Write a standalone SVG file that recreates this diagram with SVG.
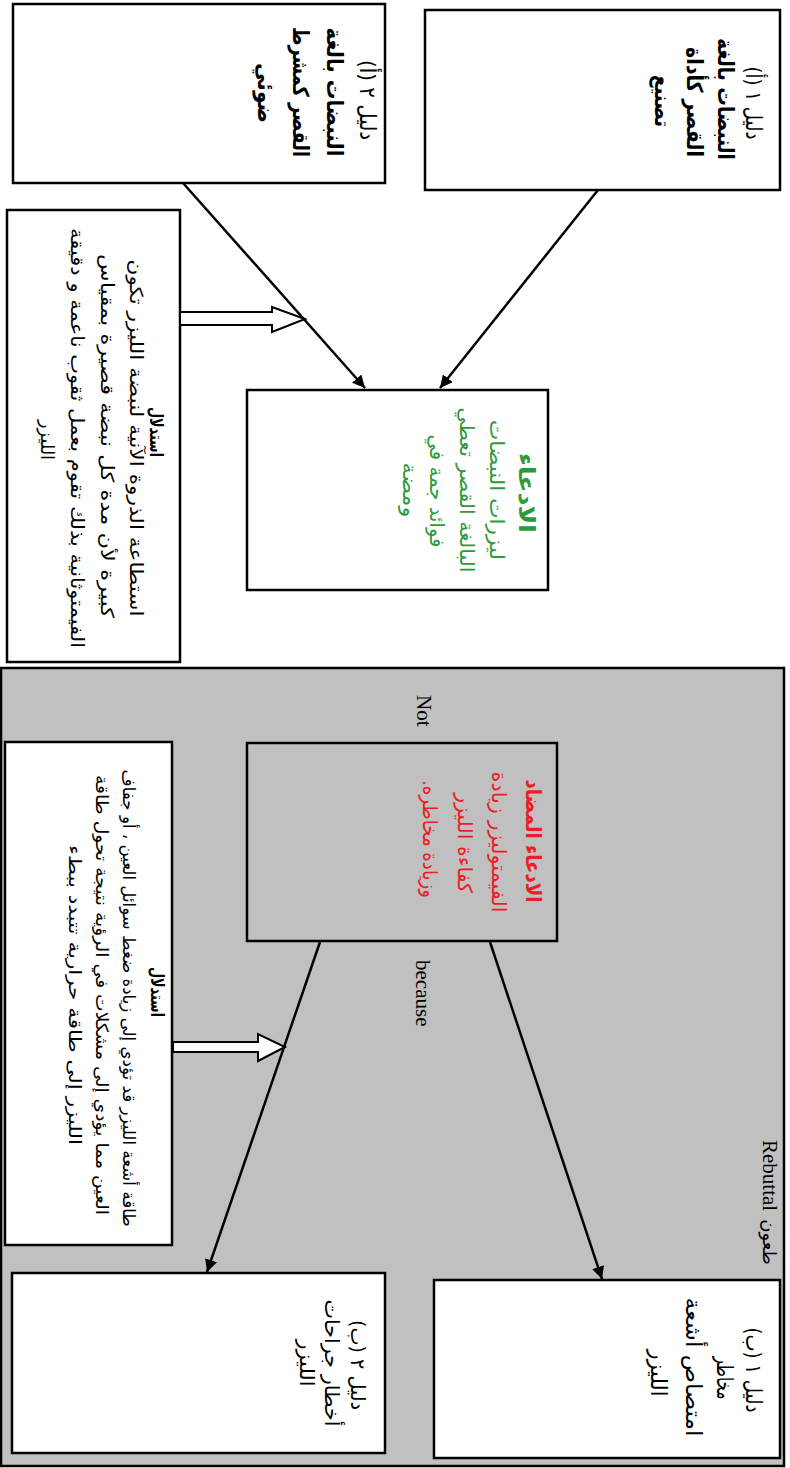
<svg xmlns="http://www.w3.org/2000/svg" width="790" height="1468" viewBox="0 0 790 1468">
<style>
.box{fill:#fff;stroke:#000;stroke-width:2.5}
.gbox{fill:#c0c0c0;stroke:#000;stroke-width:2.5}
.ln{fill:none;stroke:#000;stroke-width:2.5}
.hol{fill:#fff;stroke:#000;stroke-width:2}
.ar{font-family:"DejaVu Sans",sans-serif;direction:rtl;text-anchor:middle}
.b{font-weight:bold}
.k{fill:#000}
.gr{fill:#2e9a3a}
.rd{fill:#ee1c24}
.en{font-family:"Liberation Serif",serif;fill:#000;font-size:21px}
</style>
<defs>
<marker id="ah" viewBox="0 0 10 10" refX="10" refY="5" markerWidth="5" markerHeight="5" orient="auto" markerUnits="strokeWidth">
<path d="M0,0 L10,5 L0,10 z" fill="#000"/>
</marker>
</defs>
<rect id="rebuttal-panel" x="1" y="668" width="783" height="798" class="gbox"/>

<g id="evidence-1a">
<rect x="425" y="10" width="355" height="180" class="box"/>
<text class="ar k" font-size="22" transform="translate(746,103) rotate(90)" textLength="73" lengthAdjust="spacingAndGlyphs">دليل ١ (أ)</text>
<text class="ar k b" font-size="22" transform="translate(718,99) rotate(90)" textLength="122" lengthAdjust="spacingAndGlyphs">النبضات بالغة</text>
<text class="ar k b" font-size="22" transform="translate(687,102) rotate(90)" textLength="110" lengthAdjust="spacingAndGlyphs">القصر كأداة</text>
<text class="ar k b" font-size="22" transform="translate(655,101) rotate(90)" textLength="52" lengthAdjust="spacingAndGlyphs">تصنيع</text>
</g>

<g id="evidence-2a">
<rect x="13" y="4" width="372" height="179" class="box"/>
<text class="ar k" font-size="22" transform="translate(360,100) rotate(90)" textLength="80" lengthAdjust="spacingAndGlyphs">دليل ٢ (أ)</text>
<text class="ar k b" font-size="22" transform="translate(327,92) rotate(90)" textLength="129" lengthAdjust="spacingAndGlyphs">النبضات بالغة</text>
<text class="ar k b" font-size="22" transform="translate(293,92) rotate(90)" textLength="130" lengthAdjust="spacingAndGlyphs">القصر كمشرط</text>
<text class="ar k b" font-size="22" transform="translate(258,93) rotate(90)" textLength="60" lengthAdjust="spacingAndGlyphs">ضوئي</text>
</g>

<g id="claim">
<rect x="247" y="390" width="301" height="200" class="box"/>
<text class="ar gr b" font-size="22" transform="translate(519,493) rotate(90)" textLength="80" lengthAdjust="spacingAndGlyphs">الادعاء</text>
<text class="ar gr" font-size="20" transform="translate(490,490) rotate(90)" textLength="140" lengthAdjust="spacingAndGlyphs">ليزرات النبضات</text>
<text class="ar gr" font-size="20" transform="translate(460,490) rotate(90)" textLength="165" lengthAdjust="spacingAndGlyphs">البالغة القصر تعطي</text>
<text class="ar gr" font-size="20" transform="translate(430,491) rotate(90)" textLength="113" lengthAdjust="spacingAndGlyphs">فوائد جمة في</text>
<text class="ar gr" font-size="20" transform="translate(403,490) rotate(90)" textLength="55" lengthAdjust="spacingAndGlyphs">ومضة</text>
</g>

<g id="warrant">
<rect x="7" y="210" width="173" height="452" class="box"/>
<text class="ar k b" font-size="18" transform="translate(150,432) rotate(90)" textLength="50" lengthAdjust="spacingAndGlyphs">استدلال</text>
<text class="ar k" font-size="18" transform="translate(130,438) rotate(90)" textLength="357" lengthAdjust="spacingAndGlyphs">استطاعة الذروة الآنية لنبضة الليزر تكون</text>
<text class="ar k" font-size="18" transform="translate(101,436) rotate(90)" textLength="364" lengthAdjust="spacingAndGlyphs">كبيرة لأن مدة كل نبضة قصيرة بمقياس</text>
<text class="ar k" font-size="18" transform="translate(71,438) rotate(90)" textLength="420" lengthAdjust="spacingAndGlyphs">الفيمتوثانية بذلك تقوم بعمل ثقوب ناعمة و دقيقة</text>
<text class="ar k" font-size="18" transform="translate(41,440) rotate(90)" textLength="40" lengthAdjust="spacingAndGlyphs">الليزر</text>
</g>

<g id="counter-claim">
<rect x="247" y="743" width="310" height="198" class="gbox"/>
<text class="ar rd b" font-size="21" transform="translate(526,841) rotate(90)" textLength="123" lengthAdjust="spacingAndGlyphs">الادعاء المضاد</text>
<text class="ar rd" font-size="20" transform="translate(492,842) rotate(90)" textLength="141" lengthAdjust="spacingAndGlyphs">الفيمتوليزر زيادة</text>
<text class="ar rd" font-size="20" transform="translate(458,843) rotate(90)" textLength="100" lengthAdjust="spacingAndGlyphs">كفاءة الليزر</text>
<text class="ar rd" font-size="20" transform="translate(423,839) rotate(90)" textLength="118" lengthAdjust="spacingAndGlyphs">وزيادة مخاطره.</text>
</g>

<g id="counter-warrant">
<rect x="5" y="742" width="167" height="503" class="box"/>
<text class="ar k b" font-size="18" transform="translate(151,992) rotate(90)" textLength="50" lengthAdjust="spacingAndGlyphs">استدلال</text>
<text class="ar k" font-size="17" transform="translate(123,998) rotate(90)" textLength="457" lengthAdjust="spacingAndGlyphs">طاقة أشعة الليزر قد تؤدي إلى زيادة ضغط سوائل العين ، أو جفاف</text>
<text class="ar k" font-size="17" transform="translate(96,995) rotate(90)" textLength="440" lengthAdjust="spacingAndGlyphs">العين مما يؤدي إلى مشكلات في الرؤية نتيجة تحول طاقة</text>
<text class="ar k" font-size="17" transform="translate(69,995) rotate(90)" textLength="300" lengthAdjust="spacingAndGlyphs">الليزر إلى طاقة حرارية تتبدد ببطء</text>
</g>

<g id="evidence-1b">
<rect x="434" y="1280" width="346" height="178" class="box"/>
<text class="ar k" font-size="22" transform="translate(746,1370) rotate(90)" textLength="85" lengthAdjust="spacingAndGlyphs">دليل ١ (ب)</text>
<text class="ar k" font-size="22" transform="translate(717,1378) rotate(90)" textLength="43" lengthAdjust="spacingAndGlyphs">مخاطر</text>
<text class="ar k" font-size="22" transform="translate(686,1367) rotate(90)" textLength="139" lengthAdjust="spacingAndGlyphs">امتصاص أشعة</text>
<text class="ar k" font-size="22" transform="translate(651,1373) rotate(90)" textLength="47" lengthAdjust="spacingAndGlyphs">الليزر</text>
</g>

<g id="evidence-2b">
<rect x="12" y="1273" width="373" height="180" class="box"/>
<text class="ar k" font-size="20" transform="translate(351,1365) rotate(90)" textLength="90" lengthAdjust="spacingAndGlyphs">دليل ٢ (ب)</text>
<text class="ar k" font-size="20" transform="translate(325,1363) rotate(90)" textLength="127" lengthAdjust="spacingAndGlyphs">أخطار جراحات</text>
<text class="ar k" font-size="20" transform="translate(300,1363) rotate(90)" textLength="47" lengthAdjust="spacingAndGlyphs">الليزر</text>
</g>

<g id="labels">
<text class="en" transform="translate(417,695) rotate(90)">Not</text>
<text class="en" transform="translate(416,960) rotate(90)">because</text>
<text class="en" transform="translate(763,1140) rotate(90)">Rebuttal</text>
<text class="ar k" font-size="18" transform="translate(763,1242) rotate(90)">طعون</text>
</g>

<g id="connectors">
<line x1="598" y1="190" x2="440" y2="388" class="ln" marker-end="url(#ah)"/>
<line x1="183" y1="183" x2="365" y2="388" class="ln" marker-end="url(#ah)"/>
<polygon points="180,312 272,312 272,307 305,319 272,332 272,325 180,325" class="hol"/>
<line x1="490" y1="942" x2="602" y2="1279" class="ln" marker-end="url(#ah)"/>
<line x1="320" y1="942" x2="207" y2="1272" class="ln" marker-end="url(#ah)"/>
<polygon points="173,1042 258,1042 258,1034 285,1047 258,1061 258,1052 173,1052" class="hol"/>
</g>
</svg>
